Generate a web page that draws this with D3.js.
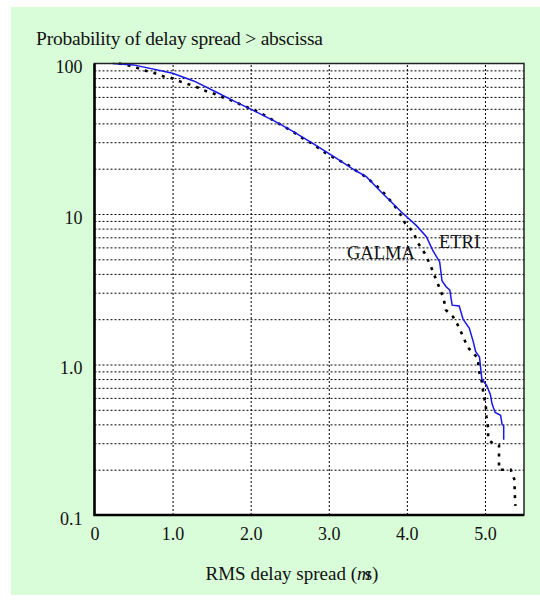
<!DOCTYPE html>
<html>
<head>
<meta charset="utf-8">
<script src="https://d3js.org/d3.v7.min.js"></script>
<style>
  body { margin: 0; background: #ffffff; }
  text { font-family: "Liberation Serif", "Times New Roman", serif; fill: #111; }
</style>
</head>
<body>
<div id="my_dataviz"></div>
<script>
// ETRI measured curve (RMS delay spread in us, probability in %)
var etriX = [0.23, 0.50, 1.00, 1.27, 1.57, 1.78, 2.02, 2.30, 2.53, 2.80, 3.10, 3.33, 3.48, 3.69, 3.93,
             4.12, 4.25, 4.33, 4.42, 4.45, 4.50, 4.55, 4.58, 4.67, 4.72, 4.80, 4.85, 4.88, 4.93, 4.96,
             5.02, 5.07, 5.09, 5.13, 5.20, 5.22, 5.24, 5.24];
var etriP = [100, 97.9, 86.2, 76.6, 64.2, 56.5, 49.2, 41.6, 35.7, 29.4, 23.4, 19.6, 17.7, 13.7, 10.3,
             8.4, 7.06, 5.75, 4.8, 3.6, 3.3, 3.12, 2.48, 2.45, 2.0, 1.74, 1.42, 1.22, 1.12, 0.80,
             0.73, 0.63, 0.55, 0.48, 0.46, 0.40, 0.39, 0.316];

// GALMA curve
var galmaX = [0.31, 0.50, 0.61, 0.75, 0.91, 0.97, 1.12, 1.27, 1.42, 1.55, 1.64, 1.77, 1.91, 2.04, 2.18,
              2.30, 2.42, 2.55, 2.70, 2.80, 2.93, 3.09, 3.23, 3.35, 3.47, 3.60, 3.71, 3.82, 3.91, 3.98,
              4.08, 4.14, 4.23, 4.30, 4.36, 4.42, 4.47, 4.50, 4.59, 4.66, 4.72, 4.78, 4.91, 4.92, 4.96,
              4.98, 5.01, 5.02, 5.04, 5.04, 5.10, 5.18, 5.18, 5.18, 5.33, 5.38, 5.38, 5.39];
var galmaP = [100, 95.5, 90.7, 87.1, 81.1, 80.5, 75.1, 71, 65.8, 62.5, 59.7, 56.5, 52.3, 49.2, 45.2,
              41.6, 38.2, 35, 31, 29.2, 25.9, 23.2, 21.5, 19.4, 17.7, 15.6, 13.7, 11.75, 10.1, 8.65,
              7.62, 6.44, 5.47, 4.58, 3.83, 3.21, 2.75, 2.30, 2.08, 1.80, 1.53, 1.30, 1.10, 0.92, 0.77,
              0.64, 0.54, 0.45, 0.38, 0.318, 0.30, 0.29, 0.25, 0.20, 0.20, 0.17, 0.143, 0.115];

var xTicks = [0, 1, 2, 3, 4, 5];
var xTickLabels = ["0", "1.0", "2.0", "3.0", "4.0", "5.0"];
var yTicks = [100, 10, 1, 0.1];
var yTickLabels = ["100", "10", "1.0", "0.1"];

var W = 540, H = 603;
var margin = {top: 63.5, right: 16, bottom: 88, left: 94.5},
    width = W - margin.left - margin.right,
    height = H - margin.top - margin.bottom;

var root = d3.select("#my_dataviz")
    .append("svg")
        .attr("width", W)
        .attr("height", H);

// light green panel
root.append("rect")
    .attr("x", 11).attr("y", 7)
    .attr("width", W - 11).attr("height", 588)
    .attr("fill", "#d8fdd8");

var svg = root.append("g")
    .attr("transform", "translate(" + margin.left + "," + margin.top + ")");

var x = d3.scaleLinear().domain([0, 5.5]).range([0, width]);
var y = d3.scaleLog().domain([0.1, 100]).range([height, 0]);

svg.append("rect")
    .attr("width", width).attr("height", height)
    .attr("fill", "#ffffff");

// horizontal grid: 1..9 in each decade
var gridY = [];
[0.1, 1, 10].forEach(function(dec) {
    for (var k = 1; k < 10; k++) {
        if (k == 1 && dec == 0.1) continue;
        gridY.push(k * dec);
    }
});
svg.append("g")
    .call(d3.axisLeft(y).tickValues(gridY).tickSize(-width).tickFormat(""))
    .call(function(g) {
        g.select(".domain").remove();
        g.selectAll("line").attr("stroke", "#000").attr("stroke-width", 1).attr("stroke-dasharray", "2,2");
    });

// vertical grid
svg.append("g")
    .attr("transform", "translate(0," + height + ")")
    .call(d3.axisBottom(x).tickValues([1, 2, 3, 4, 5]).tickSize(-height).tickFormat(""))
    .call(function(g) {
        g.select(".domain").remove();
        g.selectAll("line").attr("stroke", "#000").attr("stroke-width", 1).attr("stroke-dasharray", "2,2");
    });

// tick labels
svg.append("g")
    .attr("transform", "translate(0," + height + ")")
    .call(d3.axisBottom(x).tickValues(xTicks).tickSize(0).tickPadding(12)
        .tickFormat(function(d, i) { return xTickLabels[i]; }))
    .call(function(g) {
        g.select(".domain").remove();
        g.selectAll("text").attr("font-size", "18px").attr("fill", "#111")
            .attr("font-family", "Liberation Serif, serif");
    });

svg.append("g")
    .call(d3.axisLeft(y).tickValues(yTicks).tickSize(0).tickPadding(12)
        .tickFormat(function(d, i) { return yTickLabels[i]; }))
    .call(function(g) {
        g.select(".domain").remove();
        g.selectAll("text").attr("font-size", "18px").attr("fill", "#111")
            .attr("font-family", "Liberation Serif, serif").attr("dy", "0.5em");
    });

// curves
var etri = etriX.map(function(v, i) { return [v, etriP[i]]; });
var galma = galmaX.map(function(v, i) { return [v, galmaP[i]]; });
var line = d3.line()
    .x(function(d) { return x(d[0]); })
    .y(function(d) { return y(d[1]); });

svg.append("path")
    .datum(galma)
    .attr("d", line)
    .attr("fill", "none")
    .attr("stroke", "#000")
    .attr("stroke-width", 2.6)
    .attr("stroke-dasharray", "3,6");

svg.append("path")
    .datum(etri)
    .attr("d", line)
    .attr("fill", "none")
    .attr("stroke", "#1818e8")
    .attr("stroke-width", 1.5);

// frame
svg.append("rect")
    .attr("width", width).attr("height", height)
    .attr("fill", "none").attr("stroke", "#222").attr("stroke-width", 1.5);
svg.append("path")
    .attr("d", "M0,0V" + height + "H" + width)
    .attr("fill", "none").attr("stroke", "#000").attr("stroke-width", 2.5);

// labels
root.append("text")
    .attr("x", 36).attr("y", 44.5)
    .attr("font-size", "19.5px")
    .attr("textLength", 287)
    .attr("lengthAdjust", "spacing")
    .text("Probability of delay spread > abscissa");

root.append("text")
    .attr("x", 347).attr("y", 259)
    .attr("font-size", "18.5px")
    .text("GALMA");
root.append("text")
    .attr("x", 439).attr("y", 247.5)
    .attr("font-size", "18.5px")
    .text("ETRI");

var xt = root.append("text")
    .attr("x", 292).attr("y", 580)
    .attr("text-anchor", "middle")
    .attr("font-size", "19px");
xt.append("tspan").text("RMS delay spread (");
xt.append("tspan").attr("font-style", "italic").text("m");
xt.append("tspan").attr("dx", -6).text("s)");
</script>
</body>
</html>
